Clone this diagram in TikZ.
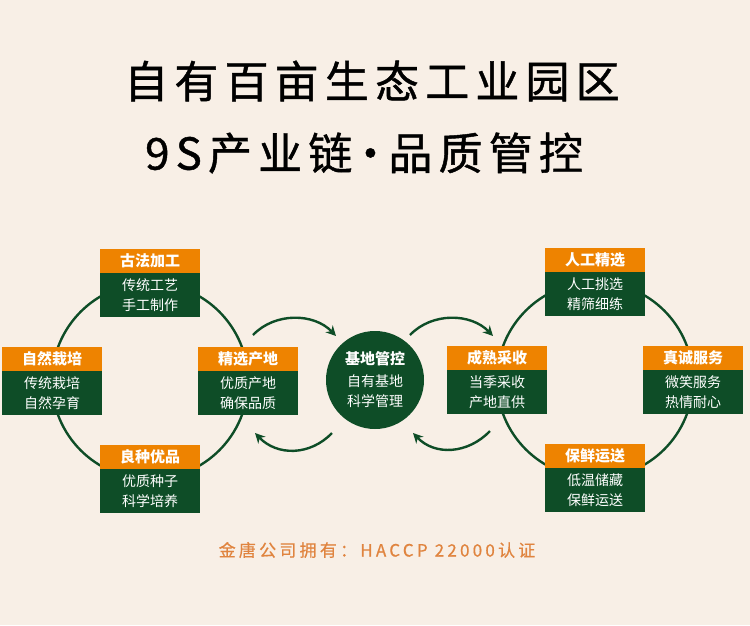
\documentclass[tikz,border=0pt]{standalone}
\usepackage{fontspec}
\setmainfont{Noto Sans CJK SC}
\newfontfamily\titlefont[LetterSpace=14,FakeBold=1]{Noto Sans CJK SC}
\newfontfamily\footfont[LetterSpace=19,FakeBold=0.6]{Noto Sans CJK SC}
\usetikzlibrary{arrows.meta,positioning}
\definecolor{bgbeige}{HTML}{F8EFE6}
\definecolor{leafgreen}{HTML}{0E4D27}
\definecolor{headorange}{HTML}{EE8300}
\definecolor{noteorange}{HTML}{E0843F}
\tikzset{
  ring/.style={draw=leafgreen,line width=2.4pt},
  headbox/.style={fill=headorange,text=white,minimum width=100pt,minimum height=24pt,inner sep=0pt,font=\fontsize{15}{18}\selectfont\bfseries},
  bodybox/.style={fill=leafgreen,text=white,minimum width=100pt,minimum height=44pt,inner sep=0pt,align=center,font=\fontsize{14}{20}\selectfont},
  flow/.style={draw=leafgreen,line width=2.4pt,-{Stealth[length=10pt,width=10pt]}},
}

\begin{document}
\begin{tikzpicture}[x=1pt,y=-1pt]
\fill[bgbeige] (0,0) rectangle (750,625);
\useasboundingbox (0,0) rectangle (750,625);
\node[font=\titlefont\fontsize{44}{50}\selectfont] (title1) at (372,81) {自有百亩生态工业园区};
\node[font=\titlefont\fontsize{44}{50}\selectfont] (title2) at (364,153) {9S产业链\kern-4pt·\kern-4pt品质管控};
% the two rings
\coordinate (lc) at (150,381);
\coordinate (rc) at (595,380);
\draw[ring] (lc) circle[radius=98pt];
\draw[ring] (rc) circle[radius=98pt];
\foreach \cx/\cy/\nm/\ti/\la/\lb in {150/283/gufa/古法加工/传统工艺/手工制作,52/381/ziran/自然栽培/传统栽培/自然孕育,248/381/jingxuan/精选产地/优质产地/确保品质,150/479/liangzhong/良种优品/优质种子/科学培养,595/282/rengong/人工精选/人工挑选/精筛细练,497/380/chengshu/成熟采收/当季采收/产地直供,693/380/zhencheng/真诚服务/微笑服务/热情耐心,595/478/baoxian/保鲜运送/低温储藏/保鲜运送}{
  \node[headbox] (\nm-h) at (\cx,\cy-22) {\ti};
  \node[bodybox,below=0pt of \nm-h] (\nm-b) {\la\\\lb};
}
\node[circle,fill=leafgreen,minimum size=98pt,inner sep=0pt,text=white,align=center,font=\fontsize{14}{20}\selectfont] (jidi) at (375,380) {{\fontsize{15}{20}\selectfont\bfseries 基地管控}\\[2pt]自有基地\\科学管理};
% arrows to and from the base
\coordinate (lt-s) at (253,335); \coordinate (lt-e) at (336,336);
\coordinate (lb-s) at (332,433); \coordinate (lb-e) at (255,433);
\coordinate (rt-s) at (410,335); \coordinate (rt-e) at (493,336);
\coordinate (rb-s) at (490,431); \coordinate (rb-e) at (413,433);
\draw[flow] (lt-s) .. controls +(22,-23) and +(-22,-23) .. (lt-e);
\draw[flow] (lb-s) .. controls +(-22,23) and +(22,23) .. (lb-e);
\draw[flow] (rt-s) .. controls +(22,-23) and +(-22,-23) .. (rt-e);
\draw[flow] (rb-s) .. controls +(-22,23) and +(22,23) .. (rb-e);
\node[text=noteorange,font=\footfont\fontsize{17}{20}\selectfont] (note) at (377,550) {金唐公司拥有：HACCP 22000认证};
\end{tikzpicture}
\end{document}
